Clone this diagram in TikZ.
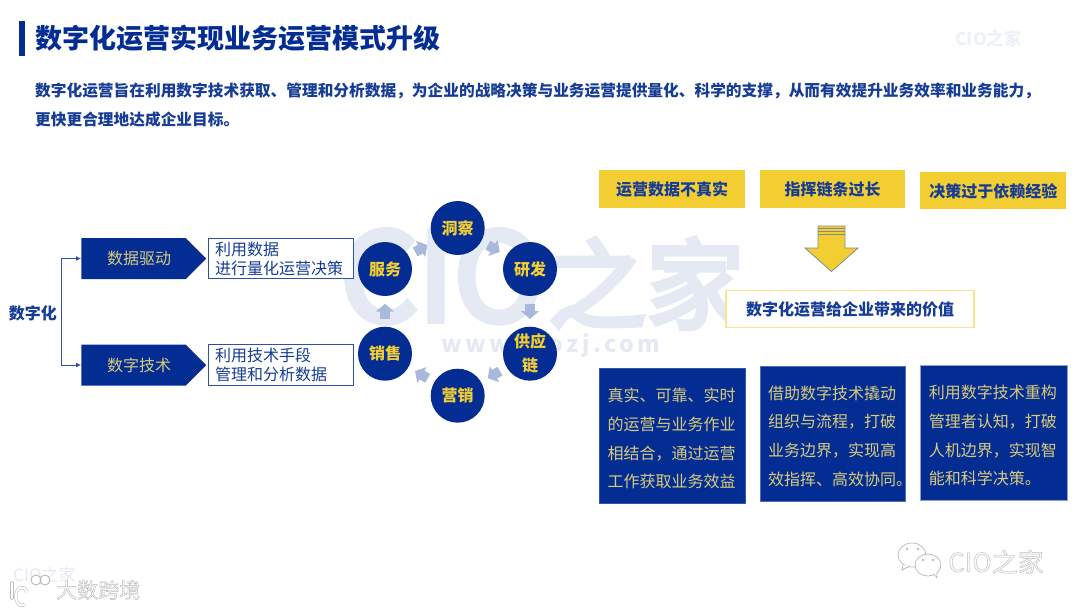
\documentclass[tikz,border=0pt]{standalone}
\usepackage{fontspec}
\setmainfont{Noto Sans CJK SC}
\newfontfamily\wmfont{Noto Sans CJK SC}[FakeBold=5]
\usetikzlibrary{arrows.meta,shapes.symbols}
\definecolor{navy}{HTML}{042D94}
\definecolor{inkblue}{HTML}{163C96}
\definecolor{gold}{HTML}{F2CE33}
\definecolor{paleyellow}{HTML}{D9CB7A}
\definecolor{wm}{HTML}{E4E9F4}
\definecolor{lineblue}{HTML}{2F50A6}
\definecolor{flowblue}{HTML}{A9B9DC}
\definecolor{slategrey}{HTML}{858B8C}
\newcommand\cjs{\vrule width0pt height.88em depth.12em\relax}
\newcommand\fs[1]{\fontsize{#1}{#1}\selectfont}
\newcommand\outlined{\special{pdf:code 2 Tr .45 w .74 G .98 g}}
\newcommand\plainfill{\special{pdf:code 0 Tr 0 G 0 g}}
\tikzset{
  txt/.style={inner sep=0pt,execute at begin node=\cjs,execute at end node=\cjs},
  lead/.style={txt,anchor=west,text=inkblue,font=\bfseries\fontsize{15.7}{15.7}\selectfont},
  ybox/.style={txt,fill=gold,text=inkblue,minimum width=146pt,minimum height=37.7pt,font=\bfseries\fontsize{16}{16}\selectfont,execute at begin node={\vrule width0pt height 16.1pt depth 1.9pt\relax}},
  pent/.style={txt,shape=signal,signal to=east,signal pointer angle=90,fill=navy,text=paleyellow,minimum width=125pt,minimum height=41pt,font=\fontsize{16}{16}\selectfont},
  note/.style={txt,inner xsep=7pt,draw=lineblue,line width=.9pt,fill=white,text=inkblue,align=left,text width=131pt,minimum height=40.5pt,font=\fontsize{16}{19}\selectfont},
  bluebox/.style={txt,fill=navy,text=paleyellow,align=left,text width=129pt,minimum height=135pt,font=\fontsize{16}{28.6}\selectfont,execute at begin node={\vrule width0pt height 20.1pt depth 0pt\relax}},
  disc/.style={txt,circle,fill=navy,text=gold,minimum size=54pt,align=center,font=\bfseries\fontsize{16}{24}\selectfont},
  flow/.style={draw=flowblue,line width=10pt,-{Triangle[length=8pt,width=18pt]},shorten >=7.5pt,shorten <=7.5pt},
  branch/.style={draw=lineblue,line width=.9pt,-{Latex[length=5pt,width=5pt]}},
  pale/.style={black!28,fill=white,line width=.7pt},
}
\begin{document}
\begin{tikzpicture}[x=1pt,y=-1pt]
\useasboundingbox (0,0) rectangle (1080,608);
% watermarks
\node[txt,anchor=base west,text=wm] (wmbig) at (340,321) {\wmfont\fs{122}CIO\hspace{4pt}\fs{98}之家};
\node[txt,anchor=west,text=wm,font=\bfseries] (wmurl) at (441,345) {\fs{23}\addfontfeatures{LetterSpace=15}www.ciozj.com};
\node[txt,anchor=west,text=wm!65!white,font=\bfseries\fontsize{17.5}{17.5}\selectfont] (wmtop) at (955,39) {CIO之家};
\node[txt,anchor=west,text=wm,font=\fontsize{17}{17}\selectfont] (wmlow) at (13,575) {CIO之家};
% header
\fill[navy] (19,21) rectangle (25,56);
\node[txt,anchor=west,text=navy,font=\bfseries\fontsize{27}{27}\selectfont] (title) at (35,38) {数字化运营实现业务运营模式升级};
\node[lead] (leadA) at (35,91) {数字化运营旨在利用数字技术获取、管理和分析数据，为企业的战略决策与业务运营提供量化、科学的支撑，从而有效提升业务效率和业务能力，};
\node[lead] (leadB) at (35,120) {更快更合理地达成企业目标。};
% left tree
\node[txt,text=inkblue,font=\bfseries\fontsize{16}{16}\selectfont] (root) at (33,313) {数字化};
\coordinate (hub) at (61,313);
\node[pent] (drive) at (133.5,258.5) {\hspace*{11pt}数据驱动};
\node[pent] (tech) at (133.5,365) {\hspace*{11pt}数字技术};
\draw[branch] (hub) |- (drive.west);
\draw[branch] (hub) |- (tech.west);
\node[note] (noteA) at (280.5,258.5) {利用数据\\进行量化运营决策};
\node[note] (noteB) at (280.5,365) {利用技术手段\\管理和分析数据};
% cycle
\node[disc] (c1) at (457.7,228) {洞察};
\node[disc] (c2) at (530,269) {研发};
\node[disc] (c3) at (530,353.7) {供应\\链};
\node[disc] (c4) at (457.7,395.7) {营销};
\node[disc] (c5) at (385,353.7) {销售};
\node[disc] (c6) at (385,269) {服务};
\draw[flow] (c1) -- (c2);
\draw[flow] (c2) -- (c3);
\draw[flow] (c3) -- (c4);
\draw[flow] (c4) -- (c5);
\draw[flow] (c5) -- (c6);
\draw[flow] (c6) -- (c1);
% right column
\node[ybox] (y1) at (672,188.8) {运营数据不真实};
\node[ybox,minimum width=145pt] (y2) at (832.5,188.8) {指挥链条过长};
\node[ybox] (y3) at (993.4,190.5) {决策过于依赖经验};
\draw[fill=gold,draw=slategrey,line width=.8pt] (818,226) -- (845,226) -- (845,248) -- (858,248) -- (831.5,271.5) -- (805,248) -- (818,248) -- cycle;
\draw[slategrey,line width=.9pt] (818,228) -- (845,228) (818,231) -- (845,231) (818,234) -- (845,234);
\node[txt,draw=gold!55!white,line width=1.3pt,fill=white,text=inkblue,minimum width=248pt,minimum height=36.5pt,font=\bfseries\fontsize{16}{16}\selectfont] (value) at (850,309) {数字化运营给企业带来的价值};
\node[bluebox,draw=navy!80!white,minimum width=146pt] (b1) at (672,435.8) {真实、可靠、实时\\的运营与业务作业\\相结合，通过运营\\工作获取业务效益};
\node[bluebox,draw=navy!70!white,minimum width=145pt] (b2) at (832.5,433.2) {借助数字技术撬动\\组织与流程，打破\\业务边界，实现高\\效指挥、高效协同。};
\node[bluebox,draw=navy!45!white,minimum width=146.7pt] (b3) at (993.4,432.7) {利用数字技术重构\\管理者认知，打破\\人机边界，实现智\\能和科学决策。};
% footers (pale, outlined)
\draw[pale] (912,555) ellipse (14pt and 12pt);
\draw[pale] (903,565) -- (902,570) -- (910,566);
\fill[black!35] (907,549) circle (1.2pt) (918,549) circle (1.2pt);
\draw[pale] (928,565) ellipse (13pt and 11pt);
\draw[pale] (934,574) -- (937,578) -- (937,572);
\fill[black!35] (923,560) circle (1.2pt) (933,560) circle (1.2pt);
\draw[black!25,line width=.6pt,double=white,double distance=2.5pt,line cap=round] (12,583) -- (12,598);
\draw[black!25,line width=.6pt,double=white,double distance=2pt] (27,592) arc (30:300:6pt and 9pt);
\draw[pale,line width=.9pt] (36,580) circle (5pt) (45,580) circle (5pt);
\node[txt,anchor=west,font=\fontsize{26}{26}\selectfont] (wechat) at (948,562) {\outlined CIO之家};
\node[txt,anchor=west,font=\fontsize{21}{21}\selectfont] (brand) at (56,590) {\outlined 大数跨境\plainfill};
\end{tikzpicture}
\end{document}
